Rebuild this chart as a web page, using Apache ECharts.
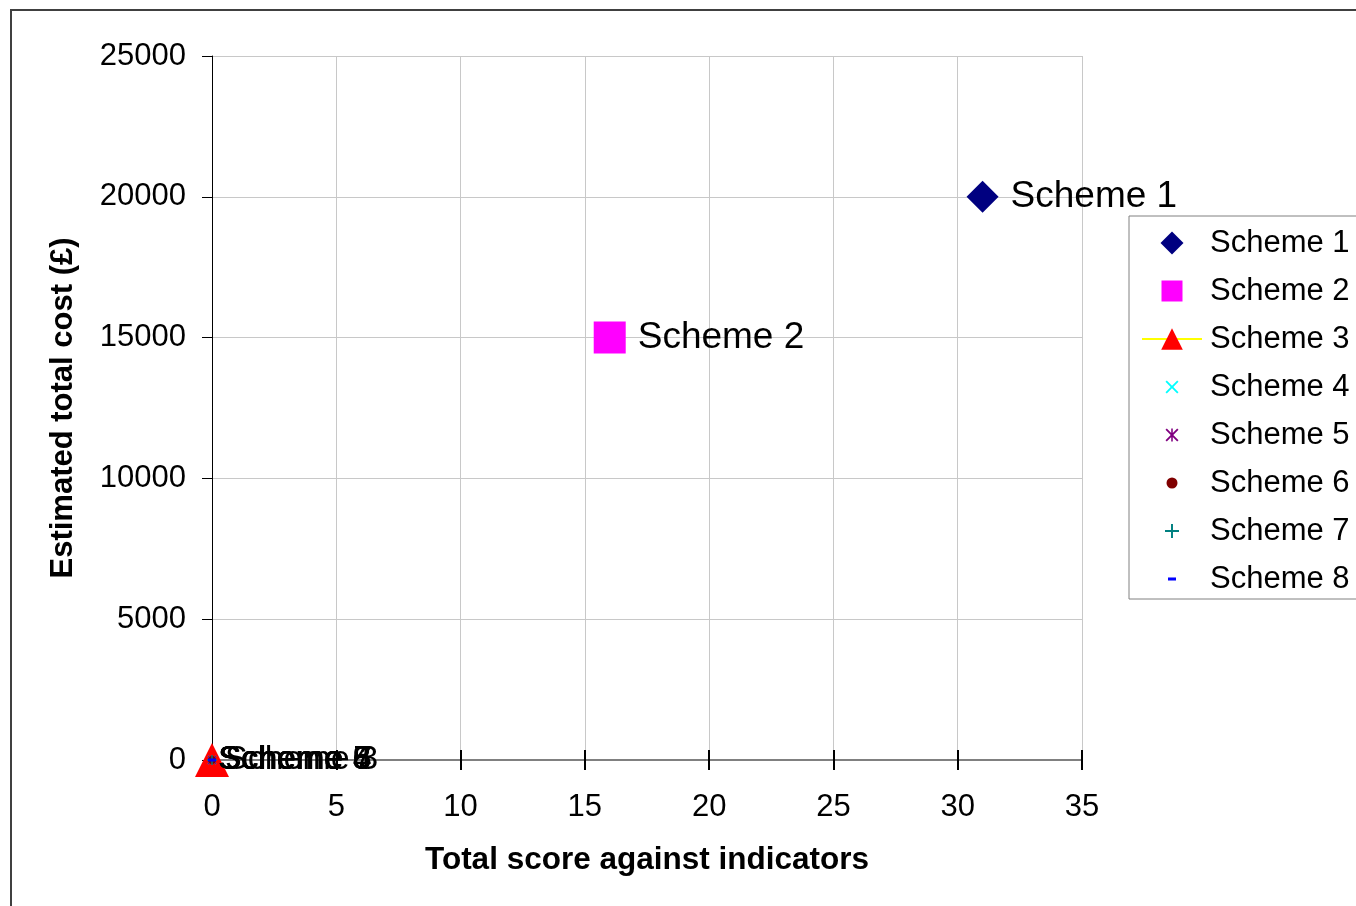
<!DOCTYPE html>
<html>
<head>
<meta charset="utf-8">
<script src="https://cdn.jsdelivr.net/npm/echarts@6/dist/echarts.min.js"></script>
<style>
html,body{margin:0;padding:0;background:#fff;}
#chart{width:1356px;height:906px;}
</style>
</head>
<body>
<div id="chart"></div>
<script>
// ---- data ----
const schemeNames = ['Scheme 1','Scheme 2','Scheme 3','Scheme 4','Scheme 5','Scheme 6','Scheme 7','Scheme 8'];
const totalScores = [31, 16, 0, 0, 0, 0, 0, 0];
const totalCosts = [20000, 15000, 0, 0, 0, 0, 0, 0];
const xAxisTicks = [0, 5, 10, 15, 20, 25, 30, 35];
const yAxisTicks = [0, 5000, 10000, 15000, 20000, 25000];

// ---- styles ----
const FONT = "'Liberation Sans', Arial, sans-serif";
const colors = ['#000080','#FF00FF','#FF0000','#00FFFF','#800080','#800000','#008080','#0000FF'];

// glyph shapes in a 0..10 unit box
const glyphs = {
  diamond: 'M5 0 L10 5 L5 10 L0 5 Z',
  square: 'M0 0 H10 V10 H0 Z',
  cross: 'M0 1 L1 0 L5 4 L9 0 L10 1 L6 5 L10 9 L9 10 L5 6 L1 10 L0 9 L4 5 Z',
  star: 'M0 1 L1 0 L5 4 L9 0 L10 1 L6 5 L10 9 L9 10 L5 6 L1 10 L0 9 L4 5 Z M4.4 0 H5.6 V10 H4.4 Z',
  circle: 'M5 0 A5 5 0 1 1 5 10 A5 5 0 1 1 5 0 Z',
  plus: 'M4.3 0 H5.7 V4.3 H10 V5.7 H5.7 V10 H4.3 V5.7 H0 V4.3 H4.3 Z',
  dash: 'M0 3.1 H10 V6.9 H0 Z'
};
const LEG_H = 27;
function padded(g, px) {
  const B = LEG_H * 10 / px;
  const p = (B - 10) / 2;
  return 'path://M' + (-p) + ' ' + (-p) + ' M' + (10 + p) + ' ' + (10 + p) + ' ' + glyphs[g];
}
const plotSymbols = ['diamond','rect','triangle','path://' + glyphs.cross,'path://' + glyphs.star,'path://' + glyphs.circle,'path://' + glyphs.plus,'path://' + glyphs.dash];
const plotSizes = [32, 32, 34, 9, 9, 8, 10, [8, 3]];
const legendIcons = [padded('diamond', 23), padded('square', 21), null, padded('cross', 13), padded('star', 13), padded('circle', 11), padded('plus', 14), padded('dash', 8)];
const labelDist = [12, 12, -4, 2, 2, 2, 2, 2];
const labelSizes = [37, 37, 34, 34, 34, 34, 34, 34];

const series = schemeNames.map(function (name, i) {
  const s = {
    name: name,
    type: i === 2 ? 'line' : 'scatter',
    data: [[totalScores[i], totalCosts[i]]],
    symbol: plotSymbols[i],
    symbolSize: plotSizes[i],
    symbolKeepAspect: false,
    itemStyle: { color: colors[i], opacity: 1 },
    label: {
      show: true, position: 'right', distance: labelDist[i],
      formatter: name, color: '#000', fontSize: labelSizes[i], fontFamily: FONT
    },
    emphasis: { disabled: true },
    silent: true,
    z: 2 + i * 0.01
  };
  if (i === 2) {
    s.lineStyle = { color: '#FFFF00', width: 2 };
    s.showSymbol = true;
  }
  return s;
});

const legendData = schemeNames.map(function (name, i) {
  if (i === 2) {
    return { name: name, itemStyle: { color: '#FF0000' }, lineStyle: { color: '#FFFF00', width: 2 } };
  }
  return { name: name, icon: legendIcons[i], itemStyle: { color: colors[i] } };
});

const chart = echarts.init(document.getElementById('chart'), null, { renderer: 'canvas' });
chart.setOption({
  animation: false,
  backgroundColor: '#fff',
  textStyle: { fontFamily: FONT },
  graphic: [{
    type: 'rect', z: 100, silent: true,
    shape: { x: 11, y: 10, width: 1500, height: 1000 },
    style: { fill: 'none', stroke: '#404040', lineWidth: 2 }
  }],
  grid: { left: 212, right: 274, top: 56, bottom: 146, containLabel: false },
  legend: {
    orient: 'vertical', left: 1129, top: 216,
    padding: [10, 40, 3, 12],
    itemWidth: 60, itemHeight: LEG_H, itemGap: 14,
    borderColor: '#808080', borderWidth: 1, backgroundColor: '#fff',
    selectedMode: false,
    textStyle: { fontSize: 31, lineHeight: 34, color: '#000', fontFamily: FONT, padding: [0, 0, 0, 3] },
    data: legendData
  },
  xAxis: [{
    type: 'value', min: xAxisTicks[0], max: xAxisTicks[xAxisTicks.length - 1],
    interval: xAxisTicks[1] - xAxisTicks[0],
    position: 'bottom',
    name: 'Total score against indicators', nameLocation: 'middle', nameGap: 84,
    nameMoveOverlap: false,
    nameTextStyle: { fontSize: 31.5, fontWeight: 'bold', color: '#000', fontFamily: FONT },
    axisLine: { show: true, onZero: false, lineStyle: { color: '#808080', width: 2 } },
    axisTick: { show: true, inside: true, length: 10, lineStyle: { color: '#000', width: 2 } },
    axisLabel: { fontSize: 31, color: '#000', margin: 32, fontFamily: FONT },
    splitLine: { show: true, lineStyle: { color: '#c8c8c8', width: 1 } }
  }, {
    type: 'value', min: xAxisTicks[0], max: xAxisTicks[xAxisTicks.length - 1],
    interval: xAxisTicks[1] - xAxisTicks[0],
    position: 'top', offset: -704,
    axisLine: { show: false },
    axisTick: { show: true, inside: true, length: 10, lineStyle: { color: '#000', width: 2 } },
    axisLabel: { show: false },
    splitLine: { show: false }
  }],
  yAxis: {
    type: 'value', min: yAxisTicks[0], max: yAxisTicks[yAxisTicks.length - 1],
    interval: yAxisTicks[1] - yAxisTicks[0],
    name: 'Estimated total cost (£)', nameLocation: 'middle', nameGap: 133,
    nameMoveOverlap: false,
    nameTextStyle: { fontSize: 31, fontWeight: 'bold', color: '#000', fontFamily: FONT },
    axisLine: { show: true, onZero: false, lineStyle: { color: '#000', width: 1 } },
    axisTick: { show: true, inside: false, length: 10, lineStyle: { color: '#000', width: 1 } },
    axisLabel: { fontSize: 31, color: '#000', margin: 26, fontFamily: FONT, formatter: function (v) { return String(v); } },
    splitLine: { show: true, lineStyle: { color: '#c8c8c8', width: 1 } }
  },
  series: series
});
</script>
</body>
</html>
